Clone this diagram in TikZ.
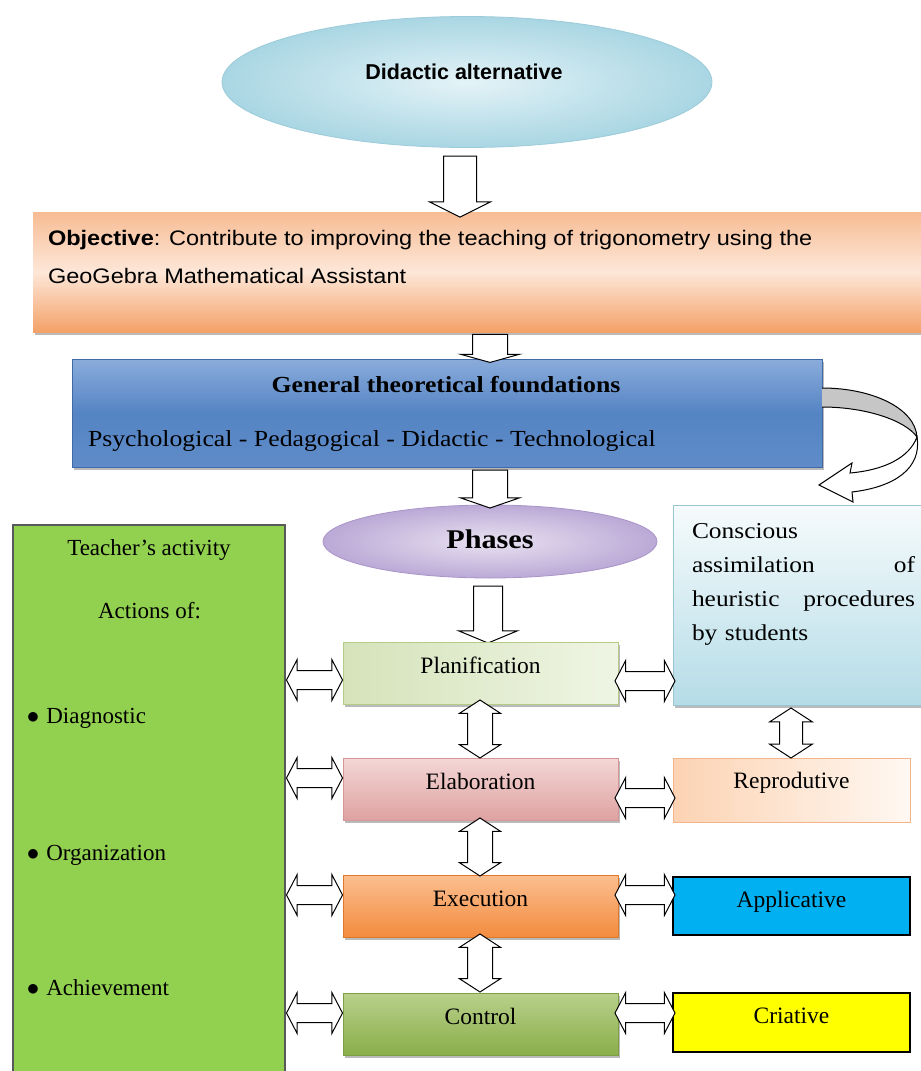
\documentclass[tikz,border=0pt]{standalone}
\usepackage{fontspec}
\setmainfont{Liberation Serif}
\setsansfont{Liberation Sans}
\newfontfamily\wserif[FakeStretch=1.12]{Liberation Serif}
\newfontfamily\wsans[FakeStretch=1.12]{Liberation Sans}
\usetikzlibrary{shapes.geometric,shapes.arrows,shadows}
\definecolor{altin}{HTML}{E4F3F7}
\definecolor{altout}{HTML}{A9D6E3}
\definecolor{altdraw}{HTML}{9CCBD9}
\definecolor{objtop}{HTML}{F7BC94}
\definecolor{objmid}{HTML}{FDE7D8}
\definecolor{objbot}{HTML}{F3A168}
\definecolor{gentop}{HTML}{8AACDB}
\definecolor{genmid}{HTML}{5584C4}
\definecolor{genbot}{HTML}{5F8CC8}
\definecolor{gendraw}{HTML}{3F6AA5}
\definecolor{phin}{HTML}{E9E2F1}
\definecolor{phout}{HTML}{BBA9D6}
\definecolor{phdraw}{HTML}{A994C8}
\definecolor{teachgreen}{HTML}{92D050}
\definecolor{planl}{HTML}{D5E3BA}
\definecolor{planr}{HTML}{EFF5E4}
\definecolor{plandraw}{HTML}{B5CC87}
\definecolor{elabtop}{HTML}{F3D7D6}
\definecolor{elabbot}{HTML}{DEA2A1}
\definecolor{elabdraw}{HTML}{D59695}
\definecolor{exectop}{HTML}{FBBE90}
\definecolor{execbot}{HTML}{F38C3E}
\definecolor{execdraw}{HTML}{E0782A}
\definecolor{ctrltop}{HTML}{B8D08A}
\definecolor{ctrlbot}{HTML}{8BAE4B}
\definecolor{ctrldraw}{HTML}{7F9F45}
\definecolor{constop}{HTML}{F6FBFC}
\definecolor{consbot}{HTML}{B5DCE7}
\definecolor{consdraw}{HTML}{9CC5D3}
\definecolor{repl}{HTML}{FCD3B3}
\definecolor{repr}{HTML}{FFF8F2}
\definecolor{repdraw}{HTML}{F2B48A}
\definecolor{applblue}{HTML}{00B0F0}
\definecolor{crityellow}{HTML}{FFFF00}
\begin{document}
\begin{tikzpicture}[x=1pt,y=-1pt,
  shd/.style={drop shadow={shadow xshift=1.5pt,shadow yshift=-3pt,opacity=0.45,fill=black!60}},
  box/.style={rectangle,inner sep=0pt,outer sep=0pt},
  phasebox/.style={box,shd,minimum width=275pt,minimum height=62pt,text height=31pt,text depth=31pt,
    font=\fontsize{23.5}{26}\selectfont},
  rightbox/.style={box,minimum width=237pt,text height=30pt,font=\fontsize{23.5}{26}\selectfont},
  txt/.style={inner sep=0pt,outer sep=0pt},
  sarr/.style={single arrow,draw=black,fill=white,line width=1pt,inner sep=0pt,rotate=-90},
  darr/.style={double arrow,draw=black,fill=white,line width=1pt,inner sep=0pt},
  hdarr/.style={darr,minimum height=56pt,inner ysep=9pt,double arrow head extend=11pt,double arrow tip angle=125},
  vdarr/.style={darr,rotate=90,minimum height=58pt,inner ysep=12pt,double arrow head extend=8pt,double arrow tip angle=114},
]
\useasboundingbox (0,0) rectangle (921,1071);
\fill[white] (0,0) rectangle (921,1071);

% ---- Didactic alternative ellipse
\node[ellipse,minimum width=490pt,minimum height=131pt,inner sep=0pt,
      inner color=altin,outer color=altout,draw=altdraw,line width=0.8pt] (alt) at (467,82) {};
\node[txt,anchor=base,font=\sffamily\bfseries\fontsize{21.5}{25}\selectfont] (altT) at (464,79) {Didactic alternative};

% ---- Objective box
\node[box,shd,minimum width=902pt,minimum height=120pt,top color=objtop,bottom color=objbot,middle color=objmid] (obj) at (484,272) {};
\node[txt,anchor=base west,font=\wsans\fontsize{21}{24}\selectfont] (objT1) at (48,245)
  {\textbf{Objective}: Contribute to improving the teaching of trigonometry using the};
\node[txt,anchor=base west,font=\wsans\fontsize{21}{24}\selectfont] (objT2) at (48,283)
  {GeoGebra Mathematical Assistant};

% arrow alt -> obj
\node[sarr,minimum height=61pt,inner ysep=16pt,single arrow head extend=14pt,single arrow tip angle=127] (a1) at (460,182.5) {};

% ---- General theoretical foundations
\node[box,shd,minimum width=750pt,minimum height=108pt,top color=gentop,bottom color=genbot,middle color=genmid,draw=gendraw,line width=0.6pt] (gen) at (447,413) {};
\node[txt,anchor=base,font=\wserif\bfseries\fontsize{23}{26}\selectfont] (genT1) at (446,392) {General theoretical foundations};
\node[txt,anchor=base west,font=\wserif\fontsize{23}{26}\selectfont] (genT2) at (88,446) {Psychological - Pedagogical - Didactic - Technological};

% arrow obj -> gen
\node[sarr,minimum height=28pt,inner ysep=17pt,single arrow head extend=12pt,single arrow tip angle=149] (a2) at (490,346) {};

% curved arrow
\fill[gray!45] (gen.east |- 0,388) .. controls (872,388) and (915,408) .. (917,437)
   .. controls (905,420) and (865,407) .. (gen.east |- 0,407) -- cycle;
\draw[line width=1pt] (gen.east |- 0,388) .. controls (872,388) and (915,408) .. (917,437)
   .. controls (905,420) and (865,407) .. (gen.east |- 0,407);
\filldraw[fill=white,draw=black,line width=1pt,line join=miter] (917,437) .. controls (922,468) and (895,487) .. (852,492)
   -- (853,502) -- (819,485) -- (852,463) -- (850,473)
   .. controls (884,470) and (909,458) .. (917,437) -- cycle;

% ---- Phases
\node[ellipse,minimum width=334pt,minimum height=73pt,inner sep=0pt,
      inner color=phin,outer color=phout,draw=phdraw,line width=0.8pt] (ph) at (490,541.5) {};
\node[txt,anchor=base,font=\wserif\bfseries\fontsize{27}{30}\selectfont] (phT) at (490,548) {Phases};

% arrow gen -> phases
\node[sarr,minimum height=38pt,inner ysep=17pt,single arrow head extend=12pt,single arrow tip angle=142] (a3) at (490,486) {};
% arrow phases -> planification
\node[sarr,minimum height=57pt,inner ysep=14pt,single arrow head extend=15pt,single arrow tip angle=135] (a4) at (488,611.5) {};

% ---- Teacher's activity
\node[box,minimum width=272pt,minimum height=560pt,fill=teachgreen,draw=black!65,line width=1.2pt] (teach) at (149,805) {};
\begin{scope}[every node/.style={txt,font=\fontsize{23}{26}\selectfont}]
\node[anchor=base] (tT1) at (149,555) {Teacher's activity};
\node[anchor=base] (tT2) at (149.5,618) {Actions of:};
\node[anchor=base west] (tT3) at (27,723) {$\bullet$\hspace{0.3em}Diagnostic};
\node[anchor=base west] (tT4) at (27,860) {$\bullet$\hspace{0.3em}Organization};
\node[anchor=base west] (tT5) at (27,995) {$\bullet$\hspace{0.3em}Achievement};
\end{scope}

% ---- Phase boxes
\node[phasebox,left color=planl,right color=planr,draw=plandraw,line width=0.6pt] (plan) at (480.5,673) {Planification};
\node[phasebox,top color=elabtop,bottom color=elabbot,draw=elabdraw,line width=0.6pt] (elab) at (480.5,789) {Elaboration};
\node[phasebox,top color=exectop,bottom color=execbot,draw=execdraw,line width=0.6pt] (exec) at (480.5,906) {Execution};
\node[phasebox,top color=ctrltop,bottom color=ctrlbot,draw=ctrldraw,line width=0.6pt] (ctrl) at (480.5,1024) {Control};

% vertical double arrows between phases
\node[vdarr] (v1) at (480,729) {};
\node[vdarr] (v2) at (480,847) {};
\node[vdarr] (v3) at (480,963) {};

% ---- Right column
\node[box,shd,minimum width=262pt,minimum height=200pt,top color=constop,bottom color=consbot,draw=consdraw,line width=0.6pt] (cons) at (804,605) {};
\node[txt,anchor=base west,text width=223pt,align=left,font=\wserif\fontsize{22.7}{34}\selectfont] (consT) at (692,538)
  {Conscious\\ assimilation\hfill of\\ heuristic\hfill procedures\\ by students};

\node[rightbox,minimum height=64pt,text depth=34pt,left color=repl,right color=repr,draw=repdraw,line width=1pt] (rep) at (791.5,790) {Reprodutive};
\node[rightbox,minimum height=58pt,text depth=28pt,fill=applblue,draw=black,line width=1.2pt] (appl) at (791.5,906) {Applicative};
\node[rightbox,minimum height=59pt,text depth=29pt,fill=crityellow,draw=black,line width=1.2pt] (crit) at (791.5,1022.5) {Criative};

\node[darr,rotate=90,minimum height=50pt,inner ysep=11pt,double arrow head extend=10pt,double arrow tip angle=114] (v4) at (791,733) {};

% horizontal double arrows, left
\node[hdarr] (h1) at (314.5,680) {};
\node[hdarr] (h2) at (314.5,778) {};
\node[hdarr] (h3) at (314.5,895) {};
\node[hdarr] (h4) at (314.5,1013) {};
% right
\node[hdarr,minimum height=60pt] (h5) at (645,681) {};
\node[hdarr,minimum height=60pt] (h6) at (645,798) {};
\node[hdarr,minimum height=60pt] (h7) at (645,895) {};
\node[hdarr,minimum height=60pt] (h8) at (645,1013) {};
\end{tikzpicture}
\end{document}
